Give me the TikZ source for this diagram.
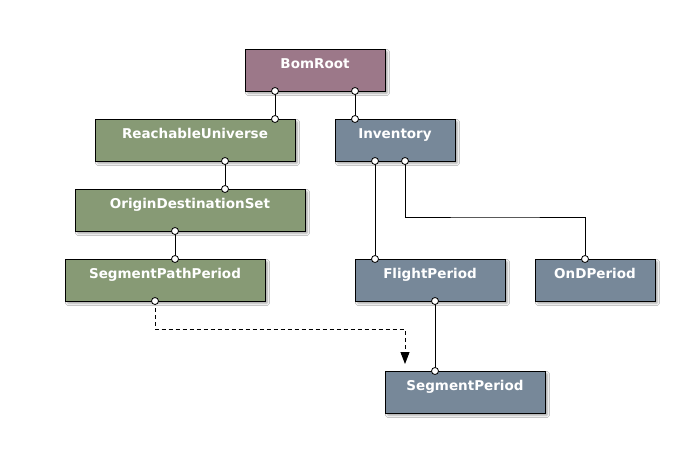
\documentclass[tikz,border=0pt]{standalone}
\usepackage{fontspec}
\setmainfont{DejaVu Sans}
\usetikzlibrary{arrows.meta,shadows.blur}
\definecolor{mauve}{HTML}{9C7889}
\definecolor{olive}{HTML}{879A75}
\definecolor{slate}{HTML}{778899}
\tikzset{
  cls/.style={draw=black, line width=1pt, blur shadow={shadow xshift=2.5pt, shadow yshift=-2.5pt, shadow blur steps=5, shadow blur extra rounding=1pt, shadow opacity=35}},
  lbl/.style={text=white, font=\bfseries\fontsize{13.5}{15}\selectfont, inner sep=0pt, anchor=base},
  pin/.style={circle, draw=black, fill=white, line width=0.8pt, minimum size=7pt, inner sep=0pt},
  link/.style={draw=black, line width=0.9pt},
}
\newcommand{\klass}[7]{% name, color, x1,y1,x2,y2, text
  \path[cls, fill=#2] (#3,#4) rectangle (#5,#6);
  \coordinate (#1-nw) at (#3,#4);
  \node[lbl] (#1) at ({(#3+#5)/2},{#4+19}) {#7};
}
\begin{document}
\begin{tikzpicture}[x=1pt,y=-1pt]
\useasboundingbox[fill=white] (0,0) rectangle (680,448);
\klass{bom}{mauve}{245}{49}{385}{91}{BomRoot}
\klass{reach}{olive}{95}{119}{295}{161}{ReachableUniverse}
\klass{inv}{slate}{335}{119}{455}{161}{Inventory}
\klass{ods}{olive}{75}{189}{305}{231}{OriginDestinationSet}
\klass{spp}{olive}{65}{259}{265}{301}{SegmentPathPeriod}
\klass{fp}{slate}{355}{259}{505}{301}{FlightPeriod}
\klass{ond}{slate}{535}{259}{655}{301}{OnDPeriod}
\klass{sp}{slate}{385}{371}{545}{413}{SegmentPeriod}
% connection points
\coordinate (b1) at (275,91);  \coordinate (r1) at (275,119);
\coordinate (b2) at (355,91);  \coordinate (i1) at (355,119);
\coordinate (r2) at (225,161); \coordinate (o1) at (225,189);
\coordinate (o2) at (175,231); \coordinate (s1) at (175,259);
\coordinate (i2) at (375,161); \coordinate (f1) at (375,259);
\coordinate (i3) at (405,161); \coordinate (n1) at (585,259);
\coordinate (f2) at (435,301); \coordinate (p1) at (435,371);
\coordinate (s2) at (155,301); \coordinate (dt) at (405,364);
\draw[link] (b1) -- (r1);
\draw[link] (b2) -- (i1);
\draw[link] (r2) -- (o1);
\draw[link] (o2) -- (s1);
\draw[link] (i2) -- (f1);
\draw[link] (i3) |- (495,217) -| (n1);
\draw[link] (f2) -- (p1);
\draw[link, dashed, dash pattern=on 4pt off 3pt, -{Triangle[length=12pt,width=9pt]}] (s2) |- (280,329.5) -| (dt);
\foreach \c in {b1,r1,b2,i1,r2,o1,o2,s1,i2,f1,i3,n1,f2,p1,s2}
  \node[pin] at (\c) {};
\end{tikzpicture}
\end{document}
